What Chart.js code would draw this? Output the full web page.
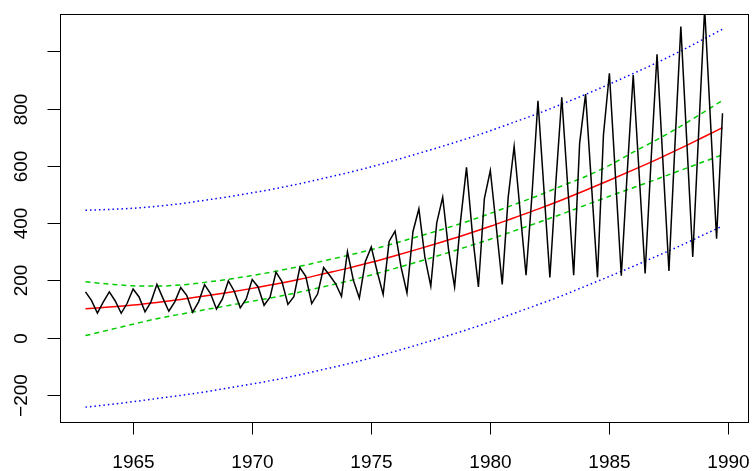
<!DOCTYPE html>
<html>
<head>
<meta charset="utf-8">
<script src="https://cdn.jsdelivr.net/npm/chart.js@4/dist/chart.umd.min.js"></script>
<style>
  html, body { margin: 0; padding: 0; background: #fff; }
  #wrap { width: 754px; height: 471px; }
</style>
</head>
<body>
<div id="wrap"><canvas id="chart" width="754" height="471"></canvas></div>
<script>
// quarterly series, starting 1963 Q1
const startYear = 1963;
const freq = 4;
const values = [
  160, 130, 86, 125,
  160, 128, 85, 120,
  170, 142, 90, 125,
  186, 138, 92, 125,
  175, 148, 89, 125,
  185, 154, 100, 135,
  198, 162, 104, 135,
  203, 177, 113, 141,
  229, 196, 116, 143,
  245, 214, 119, 153,
  245, 218, 189, 144,
  300, 200, 138, 265,
  317, 230, 151, 336,
  372, 247, 156, 370,
  450, 282, 180, 401,
  491, 305, 177, 408,
  595, 360, 177, 486,
  584, 387, 186, 490,
  668, 443, 218, 500,
  828, 519, 210, 540,
  840, 529, 218, 679,
  851, 531, 211, 708,
  924, 570, 216, 580,
  918, 571, 224, 620,
  990, 611, 233, 670,
  1087, 685, 282, 720,
  1150, 748, 346, 784
];

// fitted trend and bands, read at yearly points
const fitYears = [1963, 1964, 1965, 1966, 1967, 1968, 1969, 1970, 1971, 1972, 1973, 1974, 1975, 1976,
  1977, 1978, 1979, 1980, 1981, 1982, 1983, 1984, 1985, 1986, 1987, 1988, 1989, 1989.75];
const trend = [101, 107, 114, 123, 133, 145, 158, 172, 187, 204, 223, 242, 263, 286,
  310, 335, 361, 389, 419, 449, 481, 515, 550, 586, 623, 662, 703, 734];
const confUpper = [195, 187, 181, 180, 184, 193, 204, 217, 232, 249, 268, 287, 307, 330,
  354, 379, 405, 434, 465, 496, 530, 563, 602, 648, 692, 739, 790, 829];
const confLower = [7, 27, 47, 66, 82, 97, 112, 127, 142, 159, 178, 197, 219, 242,
  266, 291, 317, 344, 373, 402, 432, 463, 494, 524, 554, 585, 616, 639];
const predUpper = [445, 448, 452, 459, 468, 480, 492, 506, 521, 538, 557, 576, 597, 620,
  644, 669, 695, 723, 753, 783, 816, 850, 886, 923, 961, 1002, 1045, 1078];
const predLower = [-243, -234, -224, -213, -202, -190, -176, -162, -147, -130, -111, -92, -71, -48,
  -24, 1, 27, 55, 85, 115, 146, 180, 214, 249, 285, 322, 361, 390];

const xTicks = [1965, 1970, 1975, 1980, 1985, 1990];
const yTicks = [-200, 0, 200, 400, 600, 800, 1000];
const yTickLabels = ["\u2212200", "0", "200", "400", "600", "800", ""];

const seriesPts = values.map((v, i) => ({ x: startYear + i / freq, y: v }));
const fitPts = (arr) => arr.map((v, i) => ({ x: fitYears[i], y: v }));

const FONT = '19px "Liberation Sans", Arial, Helvetica, sans-serif';

// R-style box, ticks and labels
const rAxes = {
  id: "rAxes",
  afterDraw(chart) {
    const { ctx, chartArea: a, scales } = chart;
    ctx.save();
    ctx.strokeStyle = "#000";
    ctx.lineWidth = 1;
    ctx.strokeRect(Math.round(a.left) + 0.5, Math.round(a.top) + 0.5,
      Math.round(a.right - a.left), Math.round(a.bottom - a.top));

    ctx.fillStyle = "#000";
    ctx.font = FONT;

    // x axis
    ctx.textAlign = "center";
    ctx.textBaseline = "alphabetic";
    xTicks.forEach((t) => {
      const x = Math.round(scales.x.getPixelForValue(t)) + 0.5;
      ctx.beginPath();
      ctx.moveTo(x, Math.round(a.bottom) + 0.5);
      ctx.lineTo(x, a.bottom + 12.5);
      ctx.stroke();
      ctx.fillText(String(t), x, 468);
    });

    // y axis, labels rotated as in R
    yTicks.forEach((v, i) => {
      const y = Math.round(scales.y.getPixelForValue(v)) + 0.5;
      ctx.beginPath();
      ctx.moveTo(Math.round(a.left) + 0.5, y);
      ctx.lineTo(a.left - 12.5, y);
      ctx.stroke();
      if (yTickLabels[i]) {
        ctx.save();
        ctx.translate(27, y);
        ctx.rotate(-Math.PI / 2);
        ctx.fillText(yTickLabels[i], 0, 0);
        ctx.restore();
      }
    });
    ctx.restore();
  }
};

new Chart(document.getElementById("chart"), {
  type: "line",
  data: {
    datasets: [
      {
        label: "series",
        data: seriesPts,
        borderColor: "#000000",
        borderWidth: 1.5,
        pointRadius: 0,
        tension: 0
      },
      {
        label: "trend",
        data: fitPts(trend),
        borderColor: "#FF0000",
        borderWidth: 1.5,
        pointRadius: 0,
        cubicInterpolationMode: "monotone"
      },
      {
        label: "conf upper",
        data: fitPts(confUpper),
        borderColor: "#00CD00",
        borderWidth: 1.5,
        borderDash: [5, 4],
        pointRadius: 0,
        cubicInterpolationMode: "monotone"
      },
      {
        label: "conf lower",
        data: fitPts(confLower),
        borderColor: "#00CD00",
        borderWidth: 1.5,
        borderDash: [5, 4],
        pointRadius: 0,
        cubicInterpolationMode: "monotone"
      },
      {
        label: "pred upper",
        data: fitPts(predUpper),
        borderColor: "#0000FF",
        borderWidth: 1.5,
        borderDash: [1.5, 3],
        pointRadius: 0,
        cubicInterpolationMode: "monotone"
      },
      {
        label: "pred lower",
        data: fitPts(predLower),
        borderColor: "#0000FF",
        borderWidth: 1.5,
        borderDash: [1.5, 3],
        pointRadius: 0,
        cubicInterpolationMode: "monotone"
      }
    ]
  },
  options: {
    responsive: false,
    animation: false,
    layout: { padding: { left: 60, right: 6, top: 14, bottom: 49 } },
    plugins: {
      legend: { display: false },
      tooltip: { enabled: false }
    },
    scales: {
      x: { type: "linear", min: 1961.93, max: 1990.82, display: false },
      y: { type: "linear", min: -295, max: 1131, display: false }
    }
  },
  plugins: [rAxes]
});
</script>
</body>
</html>
